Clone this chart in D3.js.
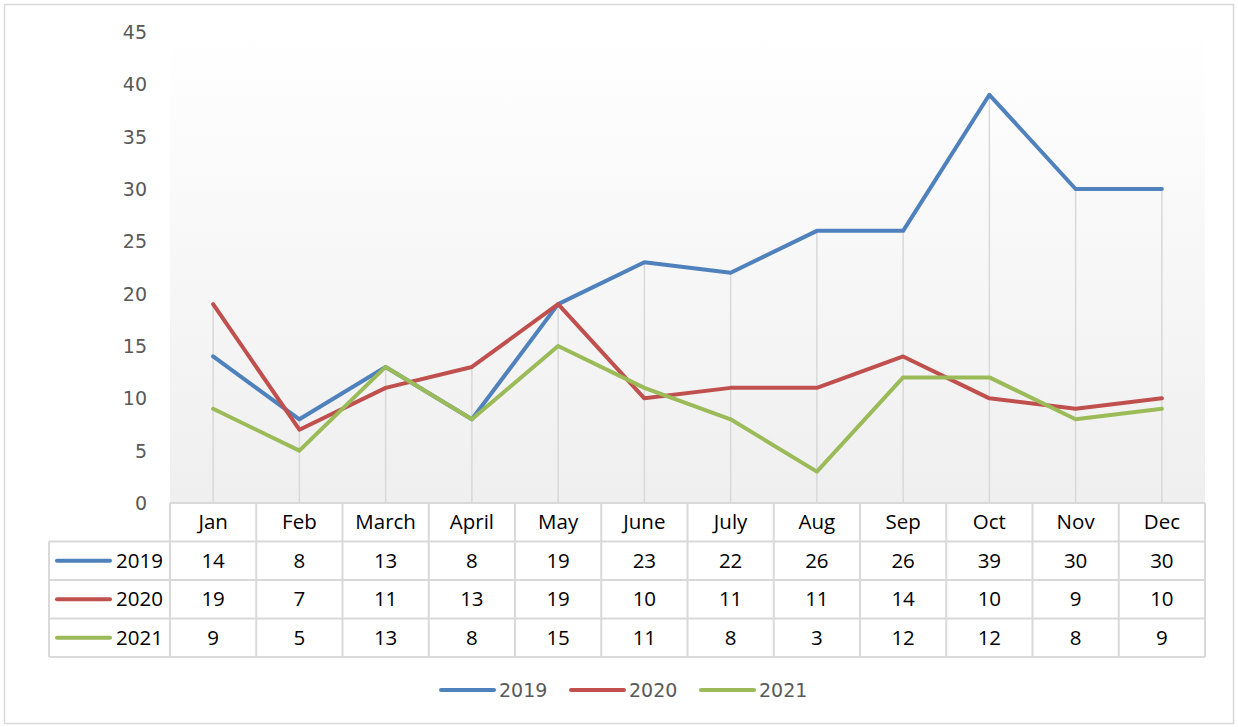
<!DOCTYPE html>
<html>
<head>
<meta charset="utf-8">
<script src="https://cdn.jsdelivr.net/npm/d3@7"></script>
<style>
  body { margin: 0; background: #fff; }
  svg { display: block; }
  .ytick text { font-family: "DejaVu Sans", sans-serif; font-size: 19px; fill: #595959; }
  .cell { font-family: "Open Sans", "Noto Sans", sans-serif; font-size: 20.5px; fill: #000; }
  .legend text { font-family: "DejaVu Sans", sans-serif; font-size: 19px; fill: #595959; }
</style>
</head>
<body>
<script>
(function(){

    //chart data
    var months = ["Jan", "Feb", "March", "April", "May", "June", "July", "Aug", "Sep", "Oct", "Nov", "Dec"];
    var seriesNames = ["2019", "2020", "2021"];
    var values2019 = [14, 8, 13, 8, 19, 23, 22, 26, 26, 39, 30, 30];
    var values2020 = [19, 7, 11, 13, 19, 10, 11, 11, 14, 10, 9, 10];
    var values2021 = [9, 5, 13, 8, 15, 11, 8, 3, 12, 12, 8, 9];
    var yTicks = [0, 5, 10, 15, 20, 25, 30, 35, 40, 45];
    var colors = ["#4f81bd", "#c0504d", "#9bbb59"];

    var allSeries = [values2019, values2020, values2021];

    window.onload = drawChart();

    function drawChart(){
        var width = 1238,
            height = 727;

        var plotLeft = 170, plotRight = 1205,
            plotTop = 32, plotBottom = 503,
            rowH = 38.5, keyLeft = 49;

        var svg = d3.select("body")
            .append("svg")
            .attr("width", width)
            .attr("height", height);

        //outer frame
        svg.append("rect")
            .attr("x", 4.5).attr("y", 4.5)
            .attr("width", 1229).attr("height", 719)
            .attr("fill", "#fff")
            .attr("stroke", "#d9d9d9")
            .attr("stroke-width", 1.5);

        //plot background gradient
        var grad = svg.append("defs").append("linearGradient")
            .attr("id", "plotGrad")
            .attr("x1", 0).attr("y1", 0).attr("x2", 0).attr("y2", 1);
        grad.append("stop").attr("offset", "0%").attr("stop-color", "#ffffff");
        grad.append("stop").attr("offset", "100%").attr("stop-color", "#efefef");

        svg.append("rect")
            .attr("x", plotLeft).attr("y", plotTop)
            .attr("width", plotRight - plotLeft)
            .attr("height", plotBottom - plotTop)
            .attr("fill", "url(#plotGrad)");

        //scales
        var x = d3.scaleBand()
            .domain(months)
            .range([plotLeft, plotRight]);

        var y = d3.scaleLinear()
            .domain([0, 45])
            .range([plotBottom, plotTop]);

        //y axis labels
        var yAxis = d3.axisLeft(y)
            .tickValues(yTicks)
            .tickSize(0)
            .tickPadding(0);

        var axis = svg.append("g")
            .attr("class", "ytick")
            .attr("transform", "translate(147,0)")
            .call(yAxis);
        axis.select(".domain").remove();
        axis.selectAll("text").attr("dy", "0.35em");

        //drop lines from highest point in each month
        svg.selectAll(".drop")
            .data(months)
            .enter()
            .append("line")
            .attr("class", "drop")
            .attr("x1", function(d){ return x(d) + x.bandwidth() / 2; })
            .attr("x2", function(d){ return x(d) + x.bandwidth() / 2; })
            .attr("y1", function(d, i){
                return y(d3.max(allSeries, function(s){ return s[i]; }));
            })
            .attr("y2", plotBottom)
            .attr("stroke", "#d9d9d9")
            .attr("stroke-width", 1.5);

        //series lines
        var line = d3.line()
            .x(function(d, i){ return x(months[i]) + x.bandwidth() / 2; })
            .y(function(d){ return y(d); });

        svg.selectAll(".series")
            .data(allSeries)
            .enter()
            .append("path")
            .attr("class", "series")
            .attr("d", line)
            .attr("fill", "none")
            .attr("stroke", function(d, i){ return colors[i]; })
            .attr("stroke-width", 4)
            .attr("stroke-linejoin", "round")
            .attr("stroke-linecap", "round");

        //data table
        var table = svg.append("g").attr("class", "table");
        var gridColor = "#d9d9d9";
        var tableBottom = plotBottom + rowH * 4;

        //horizontal lines
        table.append("line")
            .attr("x1", plotLeft).attr("x2", plotRight)
            .attr("y1", plotBottom).attr("y2", plotBottom)
            .attr("stroke", gridColor).attr("stroke-width", 2);
        for (var r = 1; r <= 4; r++){
            table.append("line")
                .attr("x1", keyLeft).attr("x2", plotRight)
                .attr("y1", plotBottom + rowH * r).attr("y2", plotBottom + rowH * r)
                .attr("stroke", gridColor).attr("stroke-width", 2);
        }
        //vertical lines
        table.append("line")
            .attr("x1", keyLeft).attr("x2", keyLeft)
            .attr("y1", plotBottom + rowH).attr("y2", tableBottom)
            .attr("stroke", gridColor).attr("stroke-width", 2);
        months.forEach(function(m){
            table.append("line")
                .attr("x1", x(m)).attr("x2", x(m))
                .attr("y1", plotBottom).attr("y2", tableBottom)
                .attr("stroke", gridColor).attr("stroke-width", 2);
        });
        table.append("line")
            .attr("x1", plotRight).attr("x2", plotRight)
            .attr("y1", plotBottom).attr("y2", tableBottom)
            .attr("stroke", gridColor).attr("stroke-width", 2);

        //header row
        table.selectAll(".head")
            .data(months)
            .enter()
            .append("text")
            .attr("class", "cell")
            .attr("x", function(d){ return x(d) + x.bandwidth() / 2; })
            .attr("y", plotBottom + rowH / 2)
            .attr("dy", "0.35em")
            .attr("text-anchor", "middle")
            .text(function(d){ return d; });

        //series rows
        allSeries.forEach(function(s, si){
            var rowY = plotBottom + rowH * (si + 1) + rowH / 2;

            table.append("line")
                .attr("x1", 57).attr("x2", 110)
                .attr("y1", rowY).attr("y2", rowY)
                .attr("stroke", colors[si])
                .attr("stroke-width", 4)
                .attr("stroke-linecap", "round");

            table.append("text")
                .attr("class", "cell")
                .attr("x", 163)
                .attr("y", rowY)
                .attr("dy", "0.35em")
                .attr("text-anchor", "end")
                .text(seriesNames[si]);

            table.selectAll(".v" + si)
                .data(s)
                .enter()
                .append("text")
                .attr("class", "cell")
                .attr("x", function(d, i){ return x(months[i]) + x.bandwidth() / 2; })
                .attr("y", rowY)
                .attr("dy", "0.35em")
                .attr("text-anchor", "middle")
                .text(function(d){ return d; });
        });

        //legend
        var legend = svg.append("g").attr("class", "legend");
        var legendX = [441, 571, 701];
        seriesNames.forEach(function(name, i){
            legend.append("line")
                .attr("x1", legendX[i]).attr("x2", legendX[i] + 53)
                .attr("y1", 690).attr("y2", 690)
                .attr("stroke", colors[i])
                .attr("stroke-width", 4)
                .attr("stroke-linecap", "round");
            legend.append("text")
                .attr("x", legendX[i] + 58)
                .attr("y", 690)
                .attr("dy", "0.35em")
                .text(name);
        });
    };

})();
</script>
</body>
</html>
